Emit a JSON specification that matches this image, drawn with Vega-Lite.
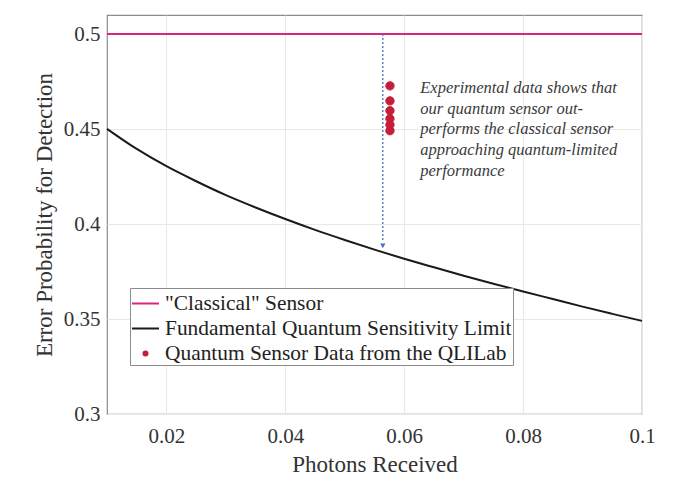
{
  "$schema": "https://vega.github.io/schema/vega-lite/v6.json",
  "width": 535,
  "height": 399,
  "autosize": {"type": "none"},
  "padding": {"left": 107, "top": 15, "right": 35, "bottom": 64},
  "background": "white",
  "config": {
    "view": {"stroke": "#8c8c8c", "strokeWidth": 1.2},
    "font": "Liberation Serif"
  },
  "datasets": {
    "classical": [
      {"x": 0.01, "y": 0.5},
      {"x": 0.1, "y": 0.5}
    ],
    "limit": [
      {"x": 0.01, "y": 0.4501},
      {"x": 0.015, "y": 0.4395},
      {"x": 0.02, "y": 0.4304},
      {"x": 0.025, "y": 0.4225},
      {"x": 0.03, "y": 0.4152},
      {"x": 0.035, "y": 0.4087},
      {"x": 0.04, "y": 0.4026},
      {"x": 0.045, "y": 0.3969},
      {"x": 0.05, "y": 0.3916},
      {"x": 0.055, "y": 0.3865},
      {"x": 0.06, "y": 0.3817},
      {"x": 0.065, "y": 0.3772},
      {"x": 0.07, "y": 0.3728},
      {"x": 0.075, "y": 0.3686},
      {"x": 0.08, "y": 0.3645},
      {"x": 0.085, "y": 0.3605},
      {"x": 0.09, "y": 0.3565},
      {"x": 0.095, "y": 0.3527},
      {"x": 0.1, "y": 0.349}
    ],
    "arrow": [
      {"x": 0.0564, "y": 0.5, "y2": 0.3905}
    ],
    "arrowhead": [
      {"x": 0.0564, "y": 0.3885}
    ],
    "measured": [
      {"x": 0.0576, "y": 0.4727, "series": "Quantum Sensor Data from the QLILab"},
      {"x": 0.0576, "y": 0.4648, "series": "Quantum Sensor Data from the QLILab"},
      {"x": 0.0576, "y": 0.4596, "series": "Quantum Sensor Data from the QLILab"},
      {"x": 0.0576, "y": 0.4554, "series": "Quantum Sensor Data from the QLILab"},
      {"x": 0.0576, "y": 0.4522, "series": "Quantum Sensor Data from the QLILab"},
      {"x": 0.0576, "y": 0.4491, "series": "Quantum Sensor Data from the QLILab"}
    ],
    "note": [
      {"x": 0.0627, "y": 0.4758, "label": "Experimental data shows that\nour quantum sensor out-\nperforms the classical sensor\napproaching quantum-limited\nperformance"}
    ]
  },
  "encoding": {
    "x": {
      "field": "x",
      "type": "quantitative",
      "scale": {"domain": [0.01, 0.1], "nice": false, "zero": false},
      "axis": {
        "title": "Photons Received",
        "values": [0.02, 0.04, 0.06, 0.08, 0.1],
        "format": "~g",
        "labelFont": "Liberation Serif",
        "labelFontSize": 21,
        "labelColor": "#333333",
        "labelPadding": 11,
        "labelFlush": false,
        "titleFont": "Liberation Serif",
        "titleFontSize": 23,
        "titleFontWeight": "normal",
        "titleColor": "#333333",
        "titlePadding": 7,
        "domain": false,
        "ticks": false,
        "gridColor": "#e8e8e8"
      }
    },
    "y": {
      "field": "y",
      "type": "quantitative",
      "scale": {"domain": [0.3, 0.51], "nice": false, "zero": false},
      "axis": {
        "title": "Error Probability for Detection",
        "values": [0.3, 0.35, 0.4, 0.45, 0.5],
        "format": "~g",
        "labelFont": "Liberation Serif",
        "labelFontSize": 21,
        "labelColor": "#333333",
        "labelPadding": 7,
        "labelFlush": false,
        "titleFont": "Liberation Serif",
        "titleFontSize": 23,
        "titleFontWeight": "normal",
        "titleColor": "#333333",
        "titlePadding": 7,
        "domain": false,
        "ticks": false,
        "gridColor": "#e8e8e8"
      }
    }
  },
  "layer": [
    {
      "data": {"name": "classical"},
      "mark": {"type": "line", "color": "#d9267a", "strokeWidth": 2.2}
    },
    {
      "data": {"name": "limit"},
      "mark": {"type": "line", "color": "#1a1a1a", "strokeWidth": 2, "interpolate": "monotone"}
    },
    {
      "data": {"name": "arrow"},
      "mark": {"type": "rule", "color": "#4a6fc9", "strokeWidth": 1.3, "strokeDash": [2, 2]},
      "encoding": {"y2": {"field": "y2"}}
    },
    {
      "data": {"name": "arrowhead"},
      "mark": {"type": "point", "shape": "triangle-down", "filled": true, "color": "#4a6fc9", "size": 28, "opacity": 1}
    },
    {
      "data": {"name": "measured"},
      "mark": {"type": "point", "filled": false, "fill": "#c41e3a", "strokeWidth": 1, "size": 3100, "opacity": 1},
      "encoding": {
        "color": {
          "field": "series",
          "type": "nominal",
          "scale": {
            "domain": ["\"Classical\" Sensor", "Fundamental Quantum Sensitivity Limit", "Quantum Sensor Data from the QLILab"],
            "range": ["#d9267a", "#1a1a1a", "#c41e3a"]
          },
          "legend": {
            "title": null,
            "orient": "none",
            "legendX": 23,
            "legendY": 273,
            "labelFont": "Liberation Serif",
            "labelFontSize": 21.4,
            "labelColor": "#222222",
            "labelLimit": 600,
            "labelOffset": 5,
            "symbolSize": 729,
            "symbolStrokeWidth": 2,
            "rowPadding": 0,
            "padding": 1,
            "strokeColor": "#8c8c8c",
            "fillColor": "white"
          }
        },
        "shape": {
          "field": "series",
          "type": "nominal",
          "scale": {
            "domain": ["\"Classical\" Sensor", "Fundamental Quantum Sensitivity Limit", "Quantum Sensor Data from the QLILab"],
            "range": ["stroke", "stroke", "M-0.15,0A0.15,0.15,0,1,0,0.15,0A0.15,0.15,0,1,0,-0.15,0Z"]
          },
          "legend": {
            "title": null,
            "orient": "none",
            "legendX": 23,
            "legendY": 273,
            "labelFont": "Liberation Serif",
            "labelFontSize": 21.4,
            "labelColor": "#222222",
            "labelLimit": 600,
            "labelOffset": 5,
            "symbolSize": 729,
            "symbolStrokeWidth": 2,
            "rowPadding": 0,
            "padding": 1,
            "strokeColor": "#8c8c8c",
            "fillColor": "white"
          }
        }
      }
    },
    {
      "data": {"name": "note"},
      "mark": {
        "type": "text",
        "align": "left",
        "baseline": "top",
        "font": "Liberation Serif",
        "fontStyle": "italic",
        "fontSize": 16.5,
        "lineBreak": "\n",
        "lineHeight": 20.7,
        "color": "#3a3a3a"
      },
      "encoding": {"text": {"field": "label"}}
    }
  ]
}
